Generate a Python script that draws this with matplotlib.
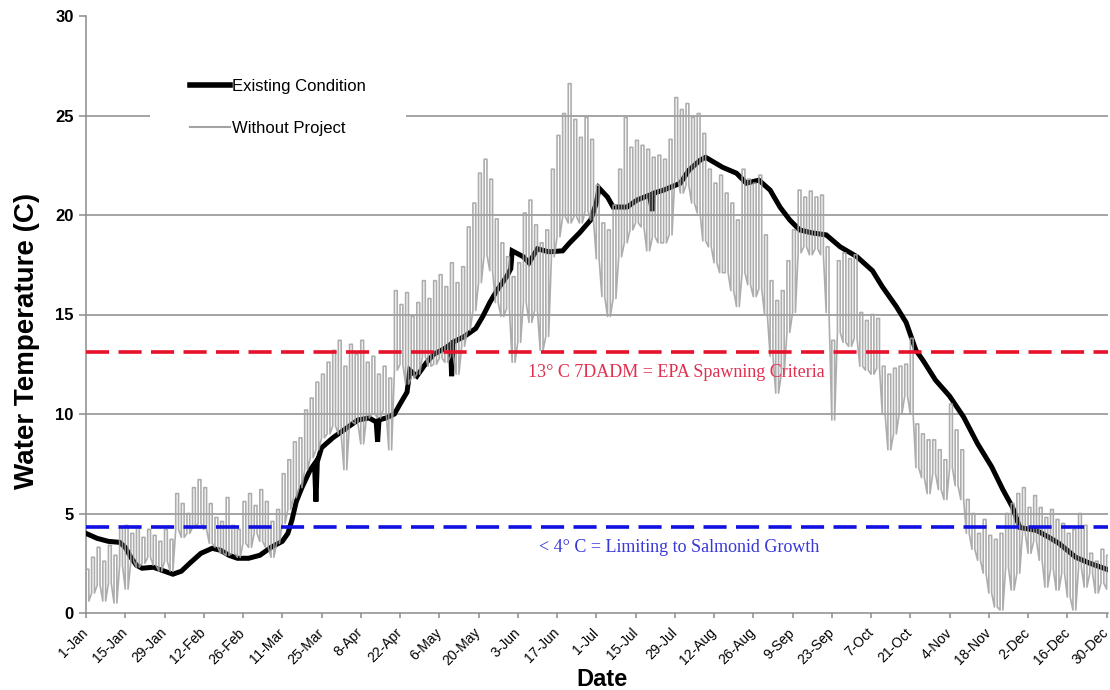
import numpy as np
import matplotlib
matplotlib.use("Agg")
import matplotlib.pyplot as plt
from matplotlib.lines import Line2D

# ---------------- data ----------------
tick_days = list(range(0, 365, 14))
tick_labels = ['1-Jan', '15-Jan', '29-Jan', '12-Feb', '26-Feb', '11-Mar', '25-Mar',
               '8-Apr', '22-Apr', '6-May', '20-May', '3-Jun', '17-Jun', '1-Jul',
               '15-Jul', '29-Jul', '12-Aug', '26-Aug', '9-Sep', '23-Sep', '7-Oct',
               '21-Oct', '4-Nov', '18-Nov', '2-Dec', '16-Dec', '30-Dec']

# Existing Condition (day of year, deg C)
existing_days = [0, 4, 8, 12, 14, 16, 18, 20, 24, 28, 31, 34, 37, 41, 45, 48, 51, 54, 58,
                 62, 66, 70, 72, 73.5, 75, 77, 80, 81.5, 82, 82.5, 84, 88, 92, 97, 101,
                 103.5, 104, 104.5, 107, 110, 112, 114.5, 115.5, 118, 121.5, 124, 128, 130,
                 130.4, 130.8, 135, 139, 141.5, 144, 146.5, 150, 151.5, 152, 156, 158, 161,
                 165, 170, 172.5, 176, 180, 182, 183, 186, 188, 193, 196.5, 201, 202, 202.5,
                 206, 212, 215, 219, 221, 227, 232, 235.5, 240, 244, 247.5, 251, 254.5, 259,
                 264, 269, 275, 280.5, 284, 289, 292.5, 296, 298.5, 303, 308, 313, 318, 323,
                 327, 330.5, 333, 339, 343.5, 347, 353, 358, 364]
existing_temp = [4.0, 3.75, 3.6, 3.55, 3.3, 2.8, 2.4, 2.25, 2.3, 2.1, 1.95, 2.1, 2.5, 3.0,
                 3.25, 3.15, 2.9, 2.75, 2.75, 2.9, 3.3, 3.6, 4.0, 4.7, 5.6, 6.3, 7.2, 7.5,
                 5.6, 7.6, 8.3, 8.8, 9.2, 9.7, 9.8, 9.6, 8.6, 9.7, 9.8, 10.0, 10.5, 11.1,
                 12.2, 11.9, 12.6, 13.0, 13.3, 13.5, 11.9, 13.6, 13.9, 14.3, 14.9, 15.6,
                 16.2, 16.9, 17.3, 18.2, 17.9, 17.6, 18.3, 18.15, 18.2, 18.6, 19.1, 19.75,
                 20.6, 21.35, 20.9, 20.4, 20.4, 20.75, 21.0, 20.2, 21.1, 21.25, 21.6, 22.25,
                 22.75, 22.9, 22.4, 22.1, 21.6, 21.75, 21.25, 20.4, 19.75, 19.25, 19.1, 19.0,
                 18.4, 17.9, 17.2, 16.4, 15.4, 14.6, 13.2, 12.7, 11.7, 10.9, 9.85, 8.5, 7.35,
                 6.2, 5.3, 4.3, 4.15, 3.8, 3.5, 2.8, 2.5, 2.2]

# Without Project: daily low / high, every second day from 1-Jan
wp_days = list(range(0, 365, 2))
wp_low = [0.6, 1.0, 1.4, 0.6, 1.5, 0.5, 2.4, 1.2, 2.6, 2.3, 2.5, 2.8, 2.4, 2.1, 2.6, 2.1,
          4.2, 3.8, 4.0, 4.3, 4.5, 4.2, 3.5, 3.3, 3.0, 2.9, 3.0, 2.8, 3.5, 3.3, 4.0, 3.6,
          3.3, 2.8, 3.5, 4.5, 5.2, 5.8, 6.3, 7.2, 7.8, 8.2, 8.8, 9.0, 9.4, 9.0, 7.2, 9.6,
          9.5, 8.5, 9.8, 10.0, 9.8, 10.2, 8.2, 12.2, 12.5, 11.5, 11.8, 12.0, 12.9, 12.4,
          12.5, 12.8, 12.6, 12.9, 12.0, 13.4, 14.2, 15.2, 16.6, 18.0, 17.2, 15.6, 14.9,
          15.3, 12.6, 13.6, 15.6, 14.6, 15.2, 13.2, 13.9, 17.9, 18.9, 19.9, 19.6, 19.9,
          19.6, 20.2, 19.75, 17.8, 15.9, 14.9, 15.8, 17.9, 18.6, 19.25, 19.6, 19.4, 18.2,
          18.9, 18.6, 18.6, 19.0, 21.9, 21.1, 21.5, 20.6, 20.1, 18.7, 18.4, 17.6, 17.1,
          17.1, 16.2, 15.4, 17.1, 16.5, 15.9, 16.3, 15.0, 12.9, 11.05, 12.0, 14.1, 15.1,
          18.1, 18.4, 18.0, 18.3, 18.0, 15.1, 9.7, 14.1, 13.6, 13.4, 13.8, 12.4, 12.2,
          12.0, 12.3, 10.0, 8.2, 9.0, 10.0, 10.9, 10.0, 7.3, 6.8, 6.0, 7.0, 6.2, 5.7, 7.3,
          6.4, 5.7, 4.0, 3.2, 2.65, 2.0, 1.0, 0.3, 0.15, 2.3, 1.15, 2.0, 4.0, 3.0, 3.6,
          2.65, 1.3, 2.2, 1.15, 2.0, 0.8, 0.15, 2.3, 1.3, 2.0, 1.0, 1.5, 1.2]
wp_high = [2.2, 2.8, 3.3, 2.6, 3.4, 2.9, 4.3, 4.4, 4.0, 4.3, 3.8, 4.2, 3.9, 3.6, 4.2, 3.7,
           6.0, 5.5, 5.0, 6.3, 6.7, 6.3, 5.5, 4.8, 4.6, 5.8, 4.4, 4.2, 5.6, 6.0, 5.4, 6.2,
           5.6, 4.6, 5.2, 7.0, 7.7, 8.6, 8.8, 10.2, 10.8, 11.6, 12.0, 12.6, 13.2, 13.7,
           12.4, 13.5, 13.0, 13.7, 12.6, 12.9, 12.0, 12.4, 11.8, 16.2, 15.5, 16.1, 14.9,
           15.6, 16.7, 15.8, 16.7, 17.0, 16.4, 17.6, 16.6, 17.4, 19.4, 20.6, 22.1, 22.8,
           21.8, 19.8, 18.6, 17.9, 16.9, 17.6, 20.1, 20.75, 19.5, 18.6, 19.25, 22.3, 24.0,
           25.1, 26.6, 24.8, 23.9, 24.9, 23.8, 21.5, 19.6, 19.25, 20.5, 22.3, 24.9, 23.4,
           23.75, 23.5, 23.3, 22.9, 23.0, 22.8, 23.8, 25.9, 25.3, 25.6, 24.9, 25.1, 24.1,
           22.3, 21.6, 22.0, 21.1, 20.6, 19.75, 22.3, 21.8, 21.6, 22.0, 19.0, 16.7, 15.7,
           16.2, 17.7, 19.25, 21.25, 20.9, 21.2, 20.9, 21.0, 18.4, 13.7, 17.7, 18.1, 17.8,
           18.0, 15.1, 14.7, 15.0, 14.8, 12.4, 12.0, 12.3, 12.4, 12.5, 13.8, 9.5, 9.0, 8.7,
           8.7, 8.2, 7.7, 10.5, 9.2, 8.2, 5.7, 5.0, 4.0, 4.7, 3.9, 3.7, 4.0, 5.0, 5.5, 6.0,
           6.3, 5.3, 5.9, 5.3, 4.8, 5.2, 4.7, 4.5, 4.0, 4.2, 5.0, 4.4, 3.0, 2.6, 3.2, 2.9]

epa_criteria = 13.12
salmonid_limit = 4.32

# ---------------- figure ----------------
fig = plt.figure(figsize=(11.1, 6.9), dpi=100)
ax = fig.add_axes([86 / 1110, 1 - 613 / 690, (1108 - 86) / 1110, (613 - 16) / 690])

grid_c = '#8c8c8c'
for yv in [5, 10, 15, 20, 25]:
    ax.axhline(yv, color=grid_c, lw=1.1, zorder=1)

ax.plot(existing_days, existing_temp, color='black', lw=3.6, zorder=3,
        solid_joinstyle='miter')

# diurnal "Without Project" trace: rise to the daily high, stay, fall back to the low
xs, ys = [], []
for i, d in enumerate(wp_days):
    lo, hi = wp_low[i], wp_high[i]
    xs += [d, d, d + 1, d + 1]
    ys += [lo, hi, hi, lo]
ax.plot(xs, ys, color='#a2a2a2', lw=1.2, alpha=0.88, zorder=4)

ax.axhline(epa_criteria, color='#e8102a', lw=2.6, dashes=(6.4, 2.6), zorder=5)
ax.axhline(salmonid_limit, color='#1010e0', lw=2.6, dashes=(6.4, 2.6), zorder=5)

ax.text(0.578, (epa_criteria - 1.05) / 30, '13° C 7DADM = EPA Spawning Criteria',
        transform=ax.transAxes, ha='center', va='center', color='#e03050',
        family='Liberation Serif', fontsize=13, zorder=6)
ax.text(0.580, (salmonid_limit - 1.05) / 30, '< 4° C = Limiting to Salmonid Growth',
        transform=ax.transAxes, ha='center', va='center', color='#3838d8',
        family='Liberation Serif', fontsize=13, zorder=6)

ax.set_xlim(0, 364.5)
ax.set_ylim(0, 30)
ax.set_xticks(tick_days)
ax.set_xticklabels(tick_labels, rotation=45, ha='right', va='center',
                   rotation_mode='anchor', family='Liberation Sans', fontsize=10)
ax.set_yticks(range(0, 31, 5))
ax.set_yticklabels([str(v) for v in range(0, 31, 5)], family='Liberation Sans',
                   fontsize=12, fontweight='bold')
ax.tick_params(axis='both', color=grid_c, width=1.1, direction='out')
ax.tick_params(axis='x', length=3.6, pad=9)
ax.tick_params(axis='y', length=5, pad=4)

for s in ['top', 'right']:
    ax.spines[s].set_visible(False)
for s in ['left', 'bottom']:
    ax.spines[s].set_color(grid_c)
    ax.spines[s].set_linewidth(1.1)

ax.set_xlabel('Date', family='Liberation Sans', fontsize=17, fontweight='bold')
ax.xaxis.set_label_coords((602 - 86) / 1022, (613 - 668) / 597)
ax.set_ylabel('Water Temperature (C)', family='Liberation Sans', fontsize=20,
              fontweight='bold')
ax.yaxis.set_label_coords((40 - 86) / 1022, (613 - 341) / 597)

handles = [Line2D([], [], color='black', lw=4.0),
           Line2D([], [], color='#a3a3a3', lw=1.5)]
leg = ax.legend(handles, ['Existing Condition', 'Without Project'],
                loc='upper left', bbox_to_anchor=(150 / 1110, 1 - 39 / 690),
                bbox_transform=fig.transFigure, borderaxespad=0,
                frameon=True, facecolor='white', edgecolor='none', framealpha=1,
                fancybox=False, borderpad=2.4, handlelength=2.4, handletextpad=0.12,
                labelspacing=1.62, prop={'family': 'Liberation Sans', 'size': 12})
leg.set_zorder(10)

fig.savefig('out.png', dpi=100)
